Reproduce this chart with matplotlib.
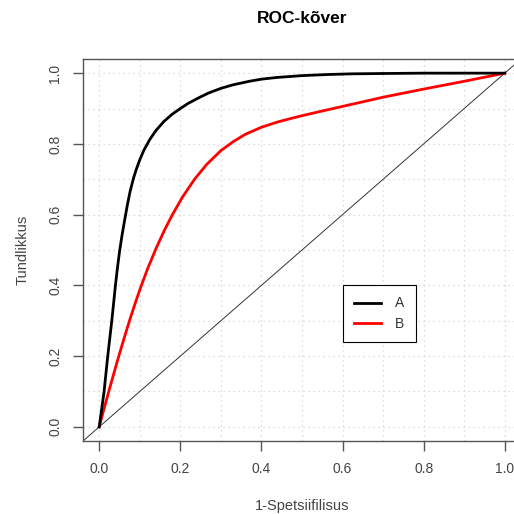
import matplotlib
matplotlib.use("Agg")
import matplotlib.pyplot as plt

plt.rcParams['font.family'] = ['Liberation Sans', 'DejaVu Sans']

# ROC curve points (FPR, TPR)
fpr_a = [0, 0.006, 0.012, 0.021, 0.031, 0.040, 0.045, 0.050, 0.056, 0.062, 0.069, 0.076,
         0.085, 0.092, 0.10, 0.11, 0.125, 0.14, 0.16, 0.18, 0.20, 0.22, 0.25, 0.27, 0.30,
         0.33, 0.37, 0.40, 0.44, 0.50, 0.56, 0.62, 0.70, 0.80, 0.90, 1.0]
tpr_a = [0, 0.05, 0.10, 0.20, 0.30, 0.40, 0.45, 0.495, 0.54, 0.58, 0.625, 0.665,
         0.705, 0.73, 0.755, 0.782, 0.813, 0.838, 0.864, 0.884, 0.90, 0.915, 0.933, 0.944, 0.957,
         0.967, 0.977, 0.983, 0.988, 0.993, 0.996, 0.998, 0.999, 1.0, 1.0, 1.0]

fpr_b = [0, 0.0125, 0.025, 0.037, 0.049, 0.062, 0.076, 0.09, 0.103, 0.12, 0.14, 0.16,
         0.18, 0.205, 0.235, 0.265, 0.30, 0.33, 0.36, 0.40, 0.44, 0.49, 0.55, 0.60,
         0.70, 0.80, 0.90, 1.0]
tpr_b = [0, 0.054, 0.106, 0.155, 0.203, 0.253, 0.305, 0.354, 0.397, 0.449, 0.504, 0.554,
         0.599, 0.649, 0.70, 0.742, 0.781, 0.806, 0.827, 0.847, 0.862, 0.877, 0.893, 0.906,
         0.932, 0.955, 0.977, 1.0]

labels = ['A', 'B']
colors = ['black', 'red']
ticks = [0.0, 0.2, 0.4, 0.6, 0.8, 1.0]
grid_pos = [i / 10 for i in range(11)]

fig = plt.figure(figsize=(5.14, 5.14), dpi=100)
ax = fig.add_axes([83 / 514, 73 / 514, 438 / 514, 382 / 514])

ax.set_xlim(-0.04, 1.04)
ax.set_ylim(-0.04, 1.04)

# dotted grid
for g in grid_pos:
    ax.axvline(g, color='#d3d3d3', lw=0.9, ls=(0, (1, 3)), zorder=0)
    ax.axhline(g, color='#d3d3d3', lw=0.9, ls=(0, (1, 3)), zorder=0)

# diagonal
ax.plot([-0.04, 1.04], [-0.04, 1.04], color='#333333', lw=0.7, zorder=1)

ax.plot(fpr_a, tpr_a, color=colors[0], lw=2.0, label=labels[0], zorder=3,
        solid_joinstyle='round')
ax.plot(fpr_b, tpr_b, color=colors[1], lw=2.0, label=labels[1], zorder=2,
        solid_joinstyle='round')

for s in ax.spines.values():
    s.set_color('#555555')
    s.set_linewidth(1.0)

ax.set_xticks(ticks)
ax.set_yticks(ticks)
ax.set_xticklabels(['%.1f' % t for t in ticks])
ax.set_yticklabels(['%.1f' % t for t in ticks], rotation=90, va='center')
ax.tick_params(direction='out', length=7, width=1, color='#555555',
               labelcolor='#444444', labelsize=10, pad=8)

ax.set_xlabel('1-Spetsiifilisus', fontsize=10.5, color='#444444', labelpad=17)
ax.set_ylabel('Tundlikkus', fontsize=10.5, color='#444444', labelpad=13)
ax.set_title('ROC-kõver', fontsize=12.5, fontweight='bold', pad=26)

leg = ax.legend(loc='upper left', bbox_to_anchor=(0.6, 0.4), bbox_transform=ax.transData,
                borderaxespad=0, fancybox=False, framealpha=1, edgecolor='black',
                fontsize=10, handlelength=2.0, handletextpad=1.0, borderpad=0.8,
                labelspacing=0.45)
leg.get_frame().set_linewidth(0.8)
for t in leg.get_texts():
    t.set_color('#333333')

fig.savefig('out.png', dpi=100)
plt.close()
